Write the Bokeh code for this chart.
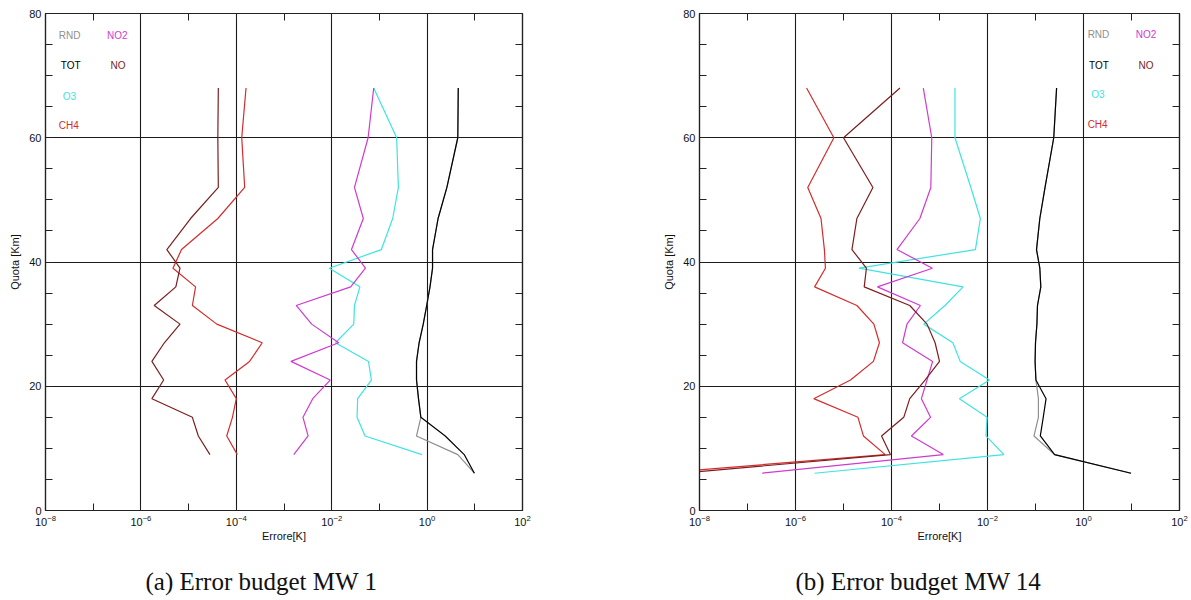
from bokeh.plotting import figure
from bokeh.layouts import row, column
from bokeh.models import FixedTicker, LinearAxis, LogAxis, Label, Range1d
from bokeh.embed import file_html
from bokeh.resources import INLINE

# ---------------- data ----------------
# Panel (a): Error budget MW 1
alt_a = [9, 12, 15, 18, 21, 24, 27, 30, 33, 36, 39, 42, 47, 52, 60, 68]
alt_a_tot = [6, 9, 12, 15, 18, 21, 24, 27, 30, 33, 36, 39, 42, 47, 52, 60, 68]
no_a = [2.8e-5, 1.6e-5, 1.2e-5, 1.7e-6, 3.0e-6, 1.7e-6, 3.1e-6, 6.6e-6, 1.9e-6, 5.4e-6,
        6.6e-6, 3.5e-6, 1.1e-5, 4.2e-5, 4.1e-5, 4.2e-5]
ch4_a = [1.05e-4, 6.3e-5, 8.3e-5, 1.0e-4, 5.8e-5, 1.9e-4, 3.5e-4, 3.9e-5, 1.2e-5, 1.4e-5,
         4.7e-6, 7.1e-6, 4.1e-5, 1.5e-4, 1.3e-4, 1.6e-4]
no2_a = [1.6e-3, 3.2e-3, 2.5e-3, 4.0e-3, 9.3e-3, 1.4e-3, 1.4e-2, 3.8e-3, 1.8e-3, 2.5e-2,
         5.1e-2, 2.6e-2, 4.6e-2, 3.0e-2, 5.8e-2, 7.6e-2]
o3_a = [0.78, 0.050, 0.034, 0.035, 0.068, 0.059, 0.012, 0.029, 0.030, 0.039,
        0.0089, 0.11, 0.19, 0.25, 0.23, 0.076]
tot_a = [9.8, 6.0, 2.4, 0.74, 0.66, 0.60, 0.60, 0.68, 0.83, 0.98, 1.15, 1.3, 1.3, 1.7, 2.6, 4.4, 4.5]
rnd_a = [9.8, 4.4, 0.60, 0.74, 0.66, 0.60, 0.60, 0.68, 0.83, 0.98, 1.15, 1.3, 1.3, 1.7, 2.6, 4.4, 4.5]

# Panel (b): Error budget MW 14
alt_b = [6, 9, 12, 15, 18, 21, 24, 27, 30, 33, 36, 39, 42, 47, 52, 60, 68]
no_b = [4.0e-9, 9.5e-5, 6.2e-5, 1.8e-4, 2.4e-4, 5.0e-4, 1.0e-3, 8.1e-4, 5.5e-4, 2.4e-4,
        2.7e-5, 3.0e-5, 1.5e-5, 1.9e-5, 4.1e-5, 1.0e-5, 1.5e-4]
ch4_b = [1.4e-9, 7.4e-5, 2.6e-5, 2.0e-5, 2.4e-6, 1.4e-5, 4.2e-5, 5.6e-5, 4.3e-5, 1.9e-5,
         2.5e-6, 4.2e-6, 4.0e-6, 3.4e-6, 1.8e-6, 6.3e-6, 1.7e-6]
no2_b = [2.0e-7, 1.2e-3, 2.6e-4, 6.5e-4, 4.2e-4, 5.5e-4, 7.2e-4, 1.7e-4, 2.1e-4, 4.0e-4,
         5.1e-5, 7.1e-4, 1.3e-4, 3.9e-4, 6.6e-4, 6.9e-4, 4.6e-4]
o3_b = [2.5e-6, 0.022, 9.3e-3, 9.8e-3, 2.6e-3, 0.011, 2.7e-3, 1.9e-3, 4.7e-4, 1.3e-3,
        3.1e-3, 2.1e-5, 5.6e-3, 7.1e-3, 4.5e-3, 2.1e-3, 2.1e-3]
tot_b = [9.8, 0.25, 0.126, 0.145, 0.166, 0.102, 0.098, 0.10, 0.107, 0.11, 0.129, 0.123,
         0.105, 0.123, 0.158, 0.24, 0.275]
rnd_b = [9.8, 0.25, 0.093, 0.115, 0.115, 0.102, 0.098, 0.10, 0.107, 0.11, 0.129, 0.123,
         0.105, 0.123, 0.158, 0.24, 0.275]

captions = ["(a) Error budget MW 1", "(b) Error budget MW 14"]

x_major = [1e-8, 1e-6, 1e-4, 1e-2, 1.0, 1e2]
x_minor = [1e-7, 1e-5, 1e-3, 1e-1, 1e1]
x_grid = [1e-6, 1e-4, 1e-2, 1.0]
y_major = [0, 20, 40, 60, 80]
y_minor = [5, 10, 15, 25, 30, 35, 45, 50, 55, 65, 70, 75]
y_grid = [20, 40, 60]

series_names = ["RND", "TOT", "O3", "CH4", "NO2", "NO"]
colors = {"RND": "#8f8f8f", "TOT": "#000000", "O3": "#3ee3e3", "CH4": "#d42c2c",
          "NO2": "#cf3acf", "NO": "#7d1d1d"}

FONT = "Liberation Sans"


def style_ticks(ax):
    ax.major_tick_in = 7
    ax.major_tick_out = 0
    ax.minor_tick_in = 7
    ax.minor_tick_out = 0
    ax.axis_line_color = "#222222"
    ax.axis_line_width = 1.2
    ax.major_tick_line_color = "#222222"
    ax.minor_tick_line_color = "#222222"


def make_panel(width, height, left, right, top, bottom, leg_pos):
    p = figure(width=width, height=height, x_axis_type="log",
               x_range=Range1d(1e-8, 1e2), y_range=Range1d(0, 80),
               output_backend="svg", toolbar_location=None,
               min_border_left=left, min_border_right=right,
               min_border_top=top, min_border_bottom=bottom)
    p.background_fill_color = "white"
    p.border_fill_color = "white"
    p.outline_line_color = "#222222"
    p.outline_line_width = 1.2

    p.xaxis.ticker = FixedTicker(ticks=x_major, minor_ticks=x_minor)
    p.yaxis.ticker = FixedTicker(ticks=y_major, minor_ticks=y_minor)
    for ax in (p.xaxis[0], p.yaxis[0]):
        style_ticks(ax)
        ax.major_label_text_font = FONT
        ax.major_label_text_font_size = "11px"
        ax.major_label_text_color = "#111111"
        ax.axis_label_text_font = FONT
        ax.axis_label_text_font_size = "11px"
        ax.axis_label_text_font_style = "normal"
        ax.axis_label_text_color = "#111111"
        ax.major_label_standoff = 4
    p.xaxis.axis_label = "Errore[K]"
    p.xaxis.axis_label_standoff = 1
    p.yaxis.axis_label = "Quota [Km]"
    p.yaxis.axis_label_standoff = 5

    top_ax = LogAxis(ticker=FixedTicker(ticks=x_major, minor_ticks=x_minor),
                     major_label_text_font_size="1px", major_label_text_alpha=0,
                     major_label_standoff=0)
    right_ax = LinearAxis(ticker=FixedTicker(ticks=y_major, minor_ticks=y_minor),
                          major_label_text_font_size="1px", major_label_text_alpha=0,
                          major_label_standoff=0)
    style_ticks(top_ax)
    style_ticks(right_ax)
    p.add_layout(top_ax, "above")
    p.add_layout(right_ax, "right")

    p.xgrid.ticker = FixedTicker(ticks=x_grid)
    p.ygrid.ticker = FixedTicker(ticks=y_grid)
    for g in (p.xgrid[0], p.ygrid[0]):
        g.grid_line_color = "#1a1a1a"
        g.grid_line_width = 1.1
        g.grid_line_alpha = 1.0

    for name in series_names:
        tx, ty = leg_pos[name]
        p.add_layout(Label(x=tx, y=ty, text=name, text_color=colors[name],
                           text_font=FONT, text_font_size="10px",
                           text_baseline="middle", text_align="left"))
    return p


leg_a = {"RND": (1.9e-8, 76.5), "NO2": (1.95e-7, 76.5),
         "TOT": (2.1e-8, 71.7), "NO": (2.3e-7, 71.7),
         "O3": (2.3e-8, 66.7), "CH4": (1.9e-8, 61.9)}
leg_b = {"RND": (1.22, 76.6), "NO2": (12.3, 76.6),
         "TOT": (1.3, 71.7), "NO": (14.0, 71.7),
         "O3": (1.45, 66.95), "CH4": (1.22, 62.2)}

pa = make_panel(600, 555, 45, 78, 13, 43, leg_a)
pa.line(rnd_a, alt_a_tot, color=colors["RND"], line_width=1.2)
pa.line(tot_a, alt_a_tot, color=colors["TOT"], line_width=1.2)
pa.line(o3_a, alt_a, color=colors["O3"], line_width=1.2)
pa.line(no2_a, alt_a, color=colors["NO2"], line_width=1.2)
pa.line(ch4_a, alt_a, color=colors["CH4"], line_width=1.2)
pa.line(no_a, alt_a, color=colors["NO"], line_width=1.2)

pb = make_panel(591, 555, 99, 12, 9, 45, leg_b)
pb.line(rnd_b, alt_b, color=colors["RND"], line_width=1.2)
pb.line(tot_b, alt_b, color=colors["TOT"], line_width=1.2)
pb.line(o3_b, alt_b, color=colors["O3"], line_width=1.2)
pb.line(no2_b, alt_b, color=colors["NO2"], line_width=1.2)
pb.line(ch4_b, alt_b, color=colors["CH4"], line_width=1.2)
pb.line(no_b, alt_b, color=colors["NO"], line_width=1.2)

# caption strip below the two panels (pixel-based coordinates)
cap = figure(width=1191, height=45, x_range=Range1d(0, 1191), y_range=Range1d(0, 45),
             output_backend="svg", toolbar_location=None,
             min_border_left=0, min_border_right=0, min_border_top=0, min_border_bottom=0)
cap.axis.visible = False
cap.grid.visible = False
cap.outline_line_color = None
cap.background_fill_color = "white"
cap.border_fill_color = "white"
for cx, txt in zip([145, 795], captions):
    cap.add_layout(Label(x=cx, y=19, text=txt, text_font="Liberation Serif",
                         text_font_size="25px", text_color="#111111",
                         text_baseline="middle", text_align="left"))

layout = column(row(pa, pb), cap)
open("out.html", "w").write(file_html(layout, INLINE))
